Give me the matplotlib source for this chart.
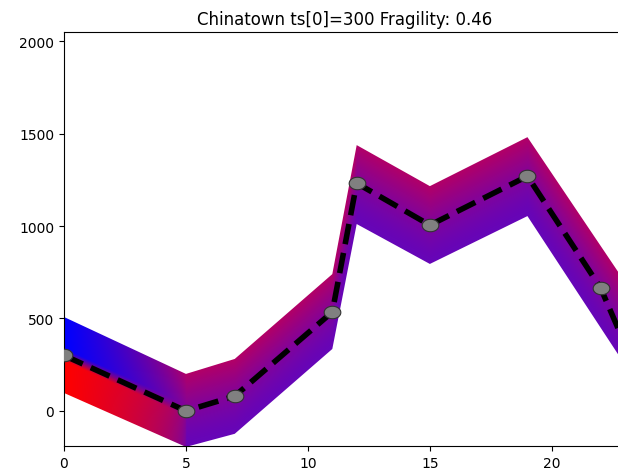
import numpy as np
import matplotlib
matplotlib.use("Agg")
import matplotlib.pyplot as plt
from matplotlib.path import Path
from matplotlib.patches import Polygon

# base series (knots of the simplified series)
hours = [0, 5, 7, 11, 12, 15, 19, 22, 23]
counts = [300, 0, 80, 535, 1232, 1005, 1270, 665, 360]

# envelope of the perturbed series
bandHours = [0, 5, 7, 11, 12, 15, 19, 23]
bandLow = [97, -195, -124, 335, 1011, 795, 1054, 249]
bandHigh = [508, 200, 281, 740, 1438, 1216, 1481, 697]

titleText = "Chinatown ts[0]=300 Fragility: 0.46"

fig = plt.figure(figsize=(6.18, 4.77), dpi=100)
ax = fig.add_axes([64 / 618, 30 / 477, 561 / 618, 414 / 477])

# colour field for the band: blue/red at the start, mixed purple afterwards
xs = np.linspace(0, 23.5, 700)
ys = np.linspace(-260, 1560, 900)
X, Y = np.meshgrid(xs, ys)
lo = np.interp(X, bandHours, bandLow)
hi = np.interp(X, bandHours, bandHigh)
frac = np.clip((Y - lo) / (hi - lo), 0, 1)

cBottom = np.array([0.40, 0.02, 0.72])
cTop = np.array([0.70, 0.0, 0.40])
cMix = cBottom + (cTop - cBottom) * frac[..., None] ** 1.5

red = np.array([1.0, 0.0, 0.0])
blue = np.array([0.0, 0.0, 1.0])
s = np.clip((frac - 0.42) / 0.16, 0, 1)[..., None]
cStart = red * (1 - s) + blue * s
w = np.clip(1 - X / 5.0, 0, 1)
# red side stays saturated longer than the blue side
w = np.where(frac < 0.5, w ** 0.45, w ** 0.8)[..., None]
rgb = w * cStart + (1 - w) * cMix

verts = list(zip(bandHours, bandHigh)) + list(zip(bandHours[::-1], bandLow[::-1]))
poly = Polygon(verts, closed=True, facecolor="none", edgecolor="none")
ax.add_patch(poly)
im = ax.imshow(rgb, extent=[xs[0], xs[-1], ys[0], ys[-1]], origin="lower",
               aspect="auto", interpolation="bilinear", zorder=1)
im.set_clip_path(poly)

# elliptical marker like in the reference
t = np.linspace(0, 2 * np.pi, 60)
ellipse = Path(np.column_stack([np.cos(t), 0.75 * np.sin(t)]), closed=True)

ax.plot(hours, counts, linestyle="--", color="black", linewidth=4,
        marker=ellipse, markersize=12, markerfacecolor="gray",
        markeredgecolor="#333333", markeredgewidth=0.8,
        markevery=list(range(len(hours) - 1)), zorder=3)

ax.set_xlim(0, 23)
ax.set_ylim(-190, 2050)
ax.set_xticks([0, 5, 10, 15, 20])
ax.set_yticks([0, 500, 1000, 1500, 2000])
ax.set_title(titleText, fontsize=12)

fig.savefig("out.png", dpi=100)
